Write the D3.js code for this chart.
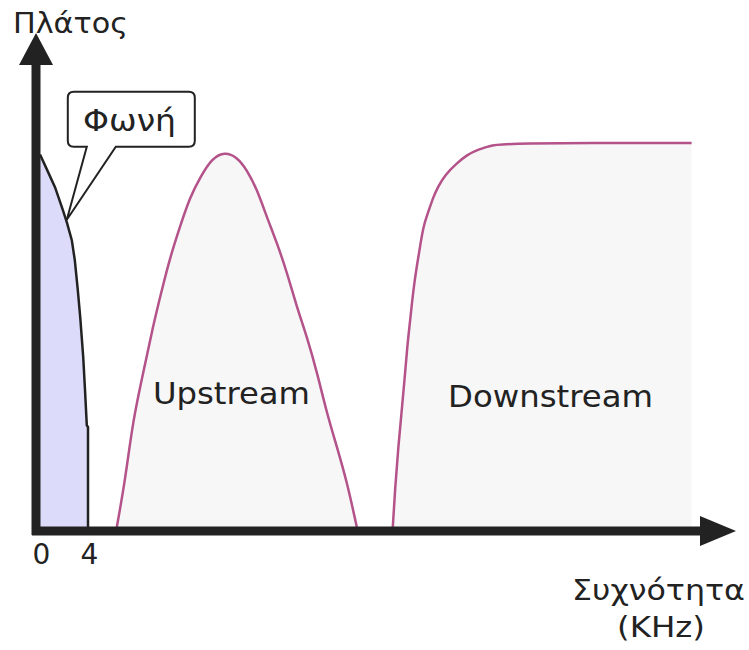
<!DOCTYPE html>
<html>
<head>
<meta charset="utf-8">
<script src="https://cdn.jsdelivr.net/npm/d3@7/dist/d3.min.js"></script>
<style>
  html, body { margin: 0; padding: 0; background: #fff; }
  svg { display: block; }
  text { font-family: "DejaVu Sans", Verdana, sans-serif; fill: #222; }
</style>
</head>
<body>
<svg id="chart" width="749" height="650"></svg>
<script>
// Frequency (abstract kHz-like units) and amplitude (0-100) of each band.
const voiceFreq = [0, 0.4, 1.25, 1.9, 2.25, 2.65, 2.9, 3.15, 3.35, 3.6, 3.75, 3.9, 4, 4];
const voiceAmp  = [97, 94.3, 88.5, 82.6, 79.2, 74.7, 69.5, 61.7, 54.7, 44.3, 35.7, 26.5, 26, 0];

const upFreq = [6.4, 7.1, 7.75, 8.6, 9.4, 10.15, 10.85, 11.65, 12.5, 13.35, 14.35, 15.4, 16.4,
                17.25, 18.1, 18.9, 19.75, 20.6, 21.4, 22.25, 23.1, 23.9, 24.75, 25.6, 26.4];
const upAmp  = [0, 12.2, 27.9, 40.1, 52.1, 61.7, 70.3, 78.1, 85.9, 91.1, 96.1, 97.7, 96.4,
                93.0, 87.8, 80.7, 74.0, 66.1, 57.3, 49.5, 40.1, 29.7, 20.8, 11.5, 0];

const downFreq = [29.4, 29.6, 29.85, 30.15, 30.4, 30.6, 30.85, 31.1, 31.4, 31.7, 31.95, 32.5,
                  32.75, 33.15, 33.75, 34.75, 35.6, 36.4, 37.5, 38.3, 54.3];
const downAmp  = [0, 10.4, 20.6, 30.5, 39.1, 46.9, 53.9, 61.5, 68.0, 73.5, 78.5, 83.3,
                  85.7, 88.5, 91.7, 94.8, 96.9, 98.2, 99.2, 100, 100];

const tickValues = [0, 4];
const bandLabels = ["Upstream", "Downstream"];
const yTitle = "Πλάτος";
const xTitle = ["Συχνότητα", "(KHz)"];
const voiceLabel = "Φωνή";

const svg = d3.select("#chart");

const x = d3.scaleLinear().domain([0, 55]).range([40, 700]);
const y = d3.scaleLinear().domain([0, 100]).range([527, 143]);

const zip = (fs, as) => fs.map((f, i) => ({ f, a: as[i] }));
const voice = zip(voiceFreq, voiceAmp);
const up = zip(upFreq, upAmp);
const down = zip(downFreq, downAmp);

const area = d3.area().x(d => x(d.f)).y0(y(0)).y1(d => y(d.a));
const line = d3.line().x(d => x(d.f)).y(d => y(d.a));

const bandStroke = "#b4528a";

// Upstream band
svg.append("path").datum(up)
  .attr("d", area.curve(d3.curveBasis)).attr("fill", "#f7f7f7");
svg.append("path").datum(up)
  .attr("d", line.curve(d3.curveBasis))
  .attr("fill", "none").attr("stroke", bandStroke).attr("stroke-width", 2.5);

// Downstream band (filled to the end of the data, line runs along the top)
svg.append("path").datum(down)
  .attr("d", area.curve(d3.curveBasis)).attr("fill", "#f7f7f7");
svg.append("path").datum(down)
  .attr("d", line.curve(d3.curveBasis))
  .attr("fill", "none").attr("stroke", bandStroke).attr("stroke-width", 2.5);

// Voice band
svg.append("path").datum(voice)
  .attr("d", area.curve(d3.curveLinear)).attr("fill", "#dcdcfa");
svg.append("path").datum(voice)
  .attr("d", line.curve(d3.curveLinear))
  .attr("fill", "none").attr("stroke", "#222").attr("stroke-width", 2.5);

// Axes drawn as thick arrows
const ax0 = x(0) - 4, ay0 = y(0) + 4;
const xEnd = x.range()[1];
svg.append("line").attr("x1", ax0 - 4).attr("x2", xEnd).attr("y1", ay0).attr("y2", ay0)
  .attr("stroke", "#222").attr("stroke-width", 9);
svg.append("path")
  .attr("d", `M${xEnd},${ay0 - 15} L${xEnd + 36},${ay0} L${xEnd},${ay0 + 15} Z`)
  .attr("fill", "#222");
const yTop = 64;
svg.append("line").attr("x1", ax0).attr("x2", ax0).attr("y1", ay0 + 4).attr("y2", yTop)
  .attr("stroke", "#222").attr("stroke-width", 9);
svg.append("path")
  .attr("d", `M${ax0 - 17},${yTop + 1} L${ax0},${yTop - 31} L${ax0 + 17},${yTop + 1} Z`)
  .attr("fill", "#222");

// Tick labels
const xAxis = d3.axisBottom(x).tickValues(tickValues).tickSize(0).tickPadding(0)
  .tickFormat(d3.format("d"));
const gx = svg.append("g").attr("transform", `translate(1,564)`).call(xAxis);
gx.select(".domain").remove();
gx.selectAll("text")
  .attr("dy", 0)
  .style("font-family", "'DejaVu Sans', Verdana, sans-serif")
  .style("font-size", "28px").attr("fill", "#222");

// Titles
svg.append("text").attr("x", 13).attr("y", 33).attr("font-size", 28)
  .attr("textLength", 115).attr("lengthAdjust", "spacingAndGlyphs").text(yTitle);
svg.append("text").attr("x", 572).attr("y", 600)
  .attr("font-size", 28).attr("textLength", 173).attr("lengthAdjust", "spacingAndGlyphs")
  .text(xTitle[0]);
svg.append("text").attr("x", 617).attr("y", 637)
  .attr("font-size", 28).attr("textLength", 88).attr("lengthAdjust", "spacingAndGlyphs")
  .text(xTitle[1]);

// Band labels
svg.append("text").attr("x", 153).attr("y", 404)
  .attr("font-size", 31).attr("textLength", 157).attr("lengthAdjust", "spacingAndGlyphs")
  .text(bandLabels[0]);
svg.append("text").attr("x", 448).attr("y", 407)
  .attr("font-size", 31).attr("textLength", 205).attr("lengthAdjust", "spacingAndGlyphs")
  .text(bandLabels[1]);

// Callout pointing at the voice curve
const tip = { x: x(2.15), y: y(80) };
const bx0 = tip.x + 2, bx1 = tip.x + 129, by0 = tip.y - 128, by1 = tip.y - 73, r = 6;
const p1 = tip.x + 21, p2 = tip.x + 50;
const callout = [
  `M${bx0 + r},${by0}`, `H${bx1 - r}`, `Q${bx1},${by0} ${bx1},${by0 + r}`,
  `V${by1 - r}`, `Q${bx1},${by1} ${bx1 - r},${by1}`,
  `H${p2}`, `L${tip.x + 1},${tip.y}`, `L${p1},${by1}`,
  `H${bx0 + r}`, `Q${bx0},${by1} ${bx0},${by1 - r}`,
  `V${by0 + r}`, `Q${bx0},${by0} ${bx0 + r},${by0}`, "Z"
].join(" ");
svg.append("path").attr("d", callout)
  .attr("fill", "#fff").attr("stroke", "#222").attr("stroke-width", 2);
svg.append("text").attr("x", 83).attr("y", 131)
  .attr("font-size", 31).attr("textLength", 93).attr("lengthAdjust", "spacingAndGlyphs")
  .text(voiceLabel);
</script>
</body>
</html>
